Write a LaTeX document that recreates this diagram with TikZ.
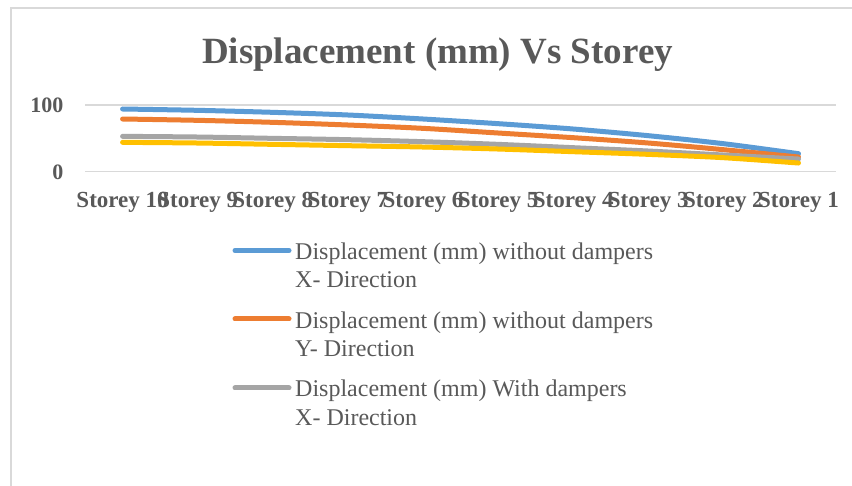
\documentclass[tikz,border=0pt]{standalone}
\usepackage{fontspec}
\setmainfont{Liberation Serif}
\usepackage{tikz}
\usetikzlibrary{positioning}

\definecolor{txtgray}{HTML}{595959}
\definecolor{gridgray}{HTML}{D9D9D9}
\definecolor{serblue}{HTML}{5B9BD5}
\definecolor{serorange}{HTML}{ED7D31}
\definecolor{sergray}{HTML}{A5A5A5}
\definecolor{seryellow}{HTML}{FFC000}

\tikzset{
  gridline/.style={gridgray, line width=1.5pt},
  series/.style={line width=5pt, line cap=round, line join=round},
  ticklabel/.style={text=txtgray, font=\fontsize{22}{26}\selectfont\bfseries, inner sep=0pt},
  legtext/.style={text=txtgray, font=\fontsize{24}{28}\selectfont, anchor=base west, inner sep=0pt}
}

\begin{document}
\begin{tikzpicture}[x=1pt, y=-1pt]

        \useasboundingbox (0,0) rectangle (852,486);
        \fill[white] (0,0) rectangle (852,486);

        % chart frame (cut off on the right and at the bottom)
        \draw[gridgray, line width=2pt] (11,490) -- (11,8.5) -- (856,8.5);

        % title
        \node[text=txtgray, font=\fontsize{37}{44}\selectfont\bfseries, anchor=base, inner sep=0pt]
              (title) at (437.5,63.5) {Displacement (mm) Vs Storey};

        % value axis
        \draw[gridline] (85,105) -- (836,105);
        \draw[gridline] (85,171.7) -- (836,171.7);
        \node[ticklabel, anchor=east] (v100) at (63.5,105.5) {100};
        \node[ticklabel, anchor=east] (v0) at (63.5,172.5) {0};

        % category labels
        \foreach \n [count=\k from 0] in {10,...,1}
          \node[ticklabel, font=\fontsize{23}{27}\selectfont\bfseries, anchor=base]
                (st\n) at ({122.6+75.1*\k},208) {Storey \n};

        % data series
        \begin{scope}[shift={(122.6,171.7)}, x=75.1pt, y=0.667pt]
          \draw[series, serblue]    plot[smooth, tension=0.5] coordinates
                {(0,94) (1,92) (2,89) (3,85) (4,79) (5,72) (6,64) (7,54) (8,42) (9,27)};
          \draw[series, serorange]  plot[smooth, tension=0.5] coordinates
                {(0,79) (1,77) (2,74) (3,70) (4,65) (5,58) (6,51) (7,43) (8,33) (9,22)};
          \draw[series, sergray]    plot[smooth, tension=0.5] coordinates
                {(0,53) (1,52) (2,50) (3,48) (4,45) (5,41) (6,36) (7,31) (8,25) (9,19)};
          \draw[series, seryellow]  plot[smooth, tension=0.5] coordinates
                {(0,44) (1,43) (2,41) (3,39) (4,37) (5,34) (6,30) (7,26) (8,21) (9,13)};
        \end{scope}

        % legend
        \draw[series, serblue]   (235,250.5) -- (289,250.5);
        \node[legtext] (leg1a) at (295,260) {Displacement (mm) without dampers};
        \node[legtext] (leg1b) at (295,288) {X- Direction};

        \draw[series, serorange] (235,319) -- (289,319);
        \node[legtext] (leg2a) at (295,328.5) {Displacement (mm) without dampers};
        \node[legtext] (leg2b) at (295,356.5) {Y- Direction};

        \draw[series, sergray]   (235,388) -- (289,388);
        \node[legtext] (leg3a) at (295,397) {Displacement (mm) With dampers};
        \node[legtext] (leg3b) at (295,425) {X- Direction};

    \end{tikzpicture}
\end{document}
